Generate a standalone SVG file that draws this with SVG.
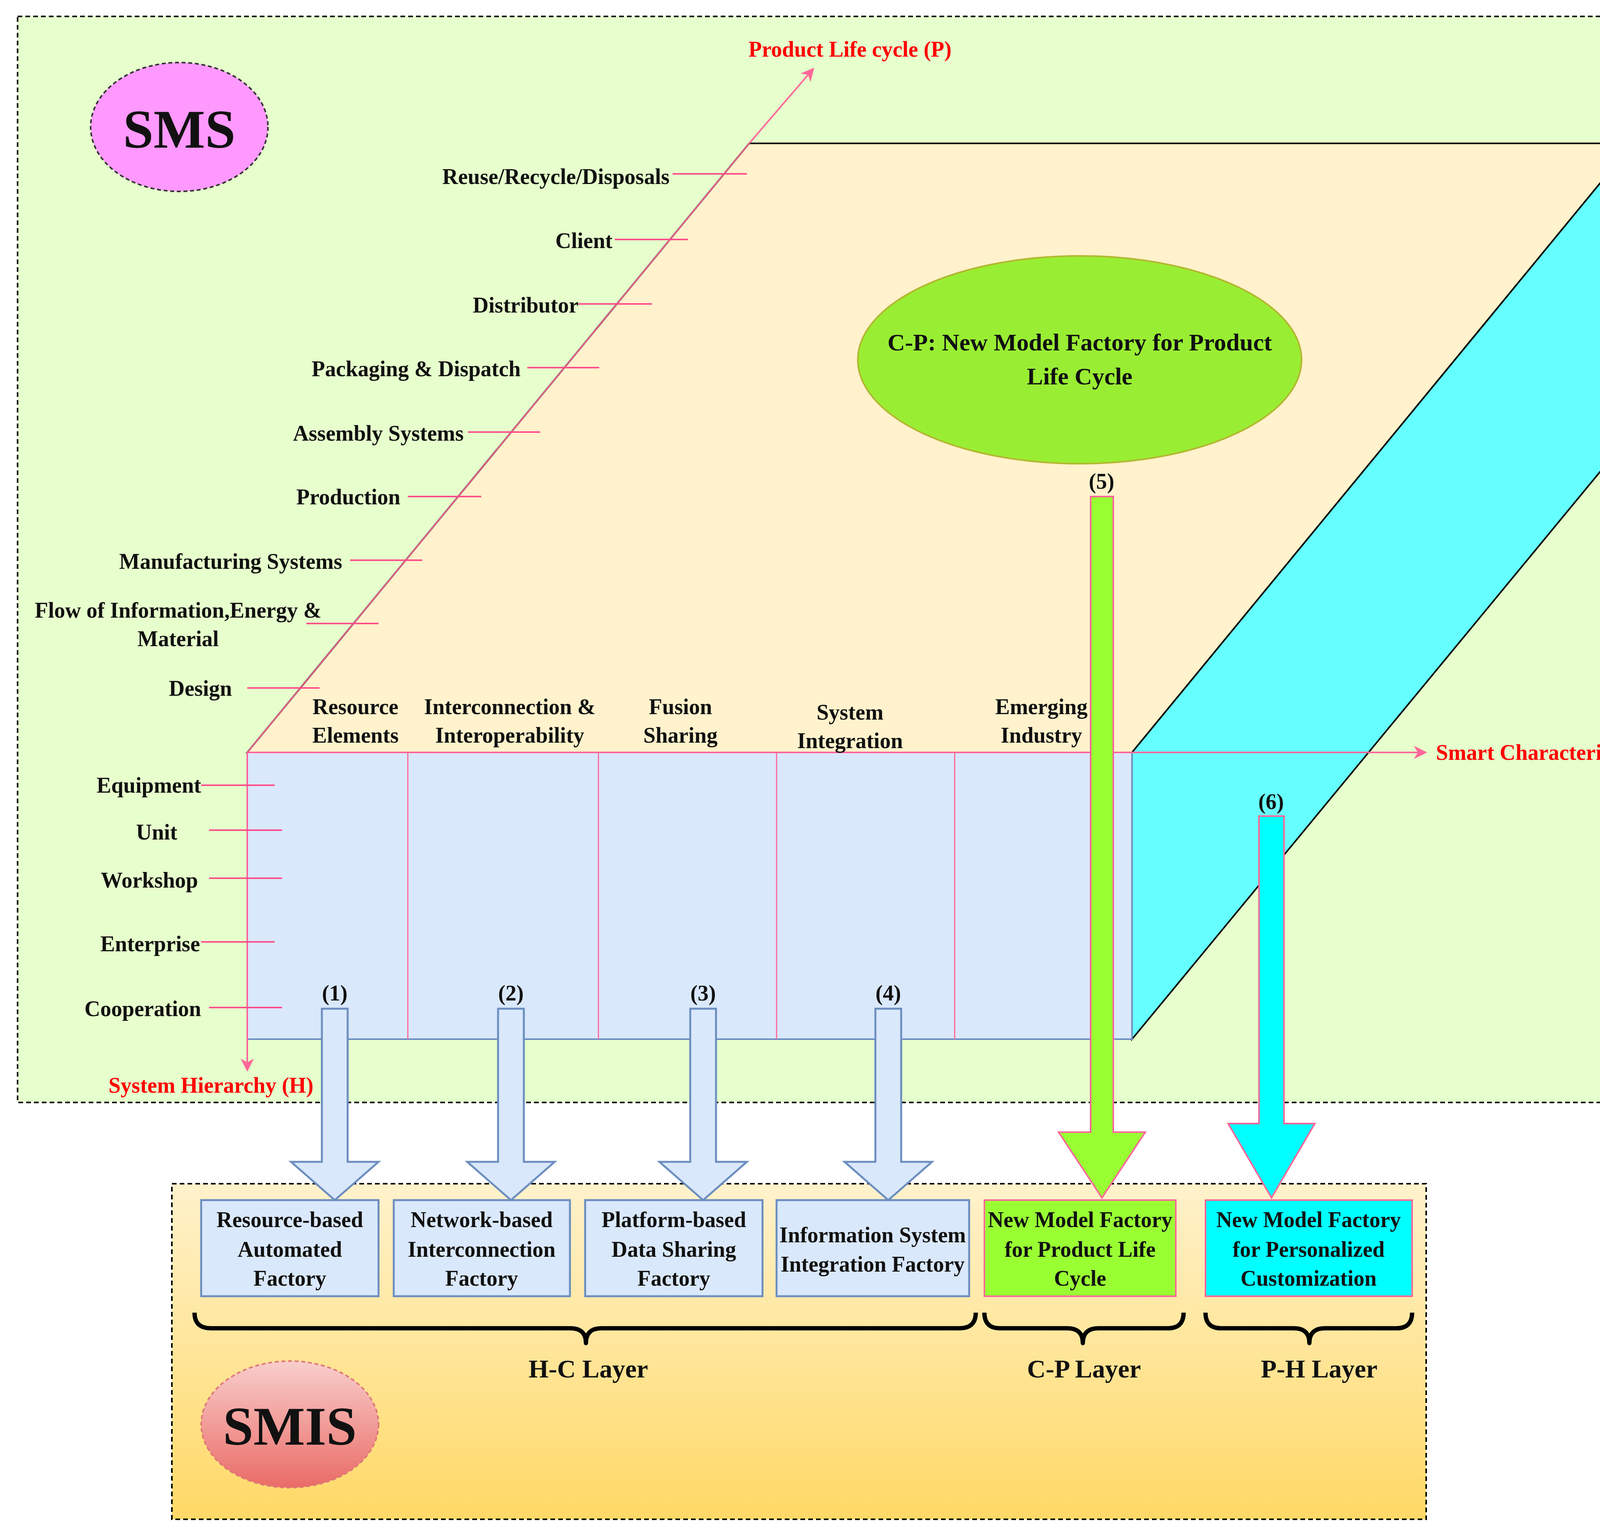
<svg xmlns="http://www.w3.org/2000/svg" width="4398" height="3942" viewBox="0 0 4398 3942">
<style>
text{font-family:"Liberation Serif",serif;font-weight:bold;fill:#111;dominant-baseline:central}
.t{font-size:56px}
.r{text-anchor:end}
.m{text-anchor:middle}
.red{fill:#ff0000;font-size:56px}
.tick{stroke:#ff4f8b;stroke-width:4}
.blue{fill:#dae8fc;stroke:#6c8ebf;stroke-width:5}
.brace{fill:none;stroke:#000;stroke-width:11;stroke-linejoin:round}
</style>
<defs>
<marker id="ah" viewBox="0 0 10 10" refX="9" refY="5" markerWidth="34" markerHeight="34" orient="auto" markerUnits="userSpaceOnUse">
<path d="M0,0L10,5L0,10L3,5z" fill="#ff6699"/>
</marker>
<linearGradient id="gy" x1="0" y1="0" x2="0" y2="1"><stop offset="0" stop-color="#fff2cc"/><stop offset="1" stop-color="#ffd966"/></linearGradient>
<linearGradient id="gr" x1="0" y1="0" x2="0" y2="1"><stop offset="0" stop-color="#f8cecc"/><stop offset="1" stop-color="#ea6b66"/></linearGradient>
</defs>
<g id="sms-region">
<rect x="45" y="42" width="4287" height="2780" fill="#e6ffcc" stroke="#000" stroke-width="4" stroke-dasharray="12,8"/>
</g>
<g id="smis-region">
<rect x="440" y="3030" width="3211" height="859" fill="url(#gy)" stroke="#000" stroke-width="4" stroke-dasharray="12,8"/>
</g>
<g id="sms"><ellipse cx="459" cy="325" rx="227" ry="165" fill="#ff99ff" stroke="#333" stroke-width="4" stroke-dasharray="10,7"/><text x="459" y="330" class="m" style="font-size:140px">SMS</text></g>
<g id="top-face"><polygon points="1918,367 4180,367 2898,1926 633,1926" fill="#fff2cc" stroke="#000" stroke-width="4"/></g>
<g id="side-face"><polygon points="4180,367 4180,1106 2898,2660 2898,1926" fill="#66ffff" stroke="#000" stroke-width="4"/></g>
<g id="front-face">
<rect x="633" y="1926" width="2265" height="734" fill="#dae8fc" stroke="#6c8ebf" stroke-width="4"/>
<g stroke="#ff6699" stroke-width="3"><line x1="1044" y1="1926" x2="1044" y2="2660"/><line x1="1532" y1="1926" x2="1532" y2="2660"/><line x1="1988" y1="1926" x2="1988" y2="2660"/><line x1="2444" y1="1926" x2="2444" y2="2660"/></g>
</g>
<g id="connectors">
<line x1="1918" y1="367" x2="2082" y2="176" stroke="#ff6699" stroke-width="4" marker-end="url(#ah)"/>
<line x1="633" y1="1926" x2="1918" y2="367" stroke="#ff6699" stroke-width="3"/>
<line x1="633" y1="1926" x2="3650" y2="1926" stroke="#ff6699" stroke-width="4" marker-end="url(#ah)"/>
<line x1="633" y1="1926" x2="633" y2="2740" stroke="#ff6699" stroke-width="4" marker-end="url(#ah)"/>
<g class="tick">
<line x1="1722" y1="445" x2="1912" y2="445"/><line x1="1574" y1="613" x2="1761" y2="613"/><line x1="1481" y1="778" x2="1669" y2="778"/><line x1="1350" y1="941" x2="1534" y2="941"/><line x1="1198" y1="1106" x2="1383" y2="1106"/><line x1="1044" y1="1271" x2="1232" y2="1271"/><line x1="896" y1="1434" x2="1081" y2="1434"/><line x1="784" y1="1596" x2="969" y2="1596"/><line x1="633" y1="1761" x2="818" y2="1761"/>
<line x1="515" y1="2010" x2="703" y2="2010"/><line x1="535" y1="2125" x2="722" y2="2125"/><line x1="535" y1="2248" x2="722" y2="2248"/><line x1="515" y1="2411" x2="703" y2="2411"/><line x1="535" y1="2579" x2="722" y2="2579"/>
</g>
<g class="blue">
<polygon points="824,2582 890,2582 890,2974 969,2974 857,3072 745,2974 824,2974"/>
<polygon points="1275,2582 1341,2582 1341,2974 1420,2974 1308,3072 1196,2974 1275,2974"/>
<polygon points="1767,2582 1833,2582 1833,2974 1912,2974 1800,3072 1688,2974 1767,2974"/>
<polygon points="2241,2582 2307,2582 2307,2974 2386,2974 2274,3072 2162,2974 2241,2974"/>
</g>
<polygon points="2792,1271 2850,1271 2850,2898 2932,2898 2821,3066 2710,2898 2792,2898" fill="#99ff33" stroke="#ff6699" stroke-width="4"/>
<polygon points="3223,2089 3287,2089 3287,2876 3366,2876 3255,3066 3144,2876 3223,2876" fill="#00ffff" stroke="#ff6699" stroke-width="4"/>
<path class="brace" d="M498,3360 Q498,3400 540,3400 L1460,3400 Q1500,3400 1500,3438 Q1500,3400 1540,3400 L2456,3400 Q2498,3400 2498,3360"/>
<path class="brace" d="M2520,3360 Q2520,3400 2560,3400 L2732,3400 Q2772,3400 2772,3438 Q2772,3400 2812,3400 L2990,3400 Q3030,3400 3030,3360"/>
<path class="brace" d="M3086,3360 Q3086,3400 3126,3400 L3312,3400 Q3352,3400 3352,3438 Q3352,3400 3392,3400 L3575,3400 Q3615,3400 3615,3360"/>
</g>
<g id="axis-labels">
<text x="2176" y="126" class="m red">Product Life cycle (P)</text>
<text x="3676" y="1926" class="red">Smart Characteristics (C)</text>
<text x="540" y="2778" class="m red">System Hierarchy (H)</text>
<g class="t">
<text x="1714" y="452" class="r">Reuse/Recycle/Disposals</text>
<text x="1568" y="616" class="r">Client</text>
<text x="1481" y="781" class="r">Distributor</text>
<text x="1333" y="944" class="r">Packaging &amp; Dispatch</text>
<text x="1187" y="1109" class="r">Assembly Systems</text>
<text x="1025" y="1272" class="r">Production</text>
<text x="876" y="1437" class="r">Manufacturing Systems</text>
<text x="456" y="1562" class="m">Flow of Information,Energy &amp;</text>
<text x="456" y="1635" class="m">Material</text>
<text x="594" y="1762" class="r">Design</text>
<text x="515" y="2010" class="r">Equipment</text>
<text x="454" y="2130" class="r">Unit</text>
<text x="507" y="2253" class="r">Workshop</text>
<text x="512" y="2416" class="r">Enterprise</text>
<text x="515" y="2582" class="r">Cooperation</text>
<text x="910" y="1809" class="m">Resource</text><text x="910" y="1882" class="m">Elements</text>
<text x="1305" y="1809" class="m">Interconnection &amp;</text><text x="1305" y="1882" class="m">Interoperability</text>
<text x="1742" y="1809" class="m">Fusion</text><text x="1742" y="1882" class="m">Sharing</text>
<text x="2176" y="1823" class="m">System</text><text x="2176" y="1896" class="m">Integration</text>
<text x="2666" y="1809" class="m">Emerging</text><text x="2666" y="1882" class="m">Industry</text>
<text x="857" y="2542" class="m">(1)</text><text x="1308" y="2542" class="m">(2)</text><text x="1800" y="2542" class="m">(3)</text><text x="2274" y="2542" class="m">(4)</text>
<text x="2820" y="1232" class="m">(5)</text><text x="3254" y="2052" class="m">(6)</text>
</g>
</g>
<g id="cp-ellipse"><ellipse cx="2764" cy="921" rx="568" ry="266" fill="#99ee33" stroke="#b5b530" stroke-width="4"/>
<text x="2764" y="876" class="m" style="font-size:62px">C-P: New Model Factory for Product</text><text x="2764" y="963" class="m" style="font-size:62px">Life Cycle</text></g>
<g id="smis"><ellipse cx="742" cy="3646" rx="227" ry="162" fill="url(#gr)" stroke="#d77" stroke-width="4" stroke-dasharray="10,7"/><text x="742" y="3650" class="m" style="font-size:140px">SMIS</text></g>
<g id="box1"><rect x="515" y="3072" width="454" height="246" class="blue"/><g class="t"><text x="742" y="3122" class="m">Resource-based</text><text x="742" y="3198" class="m">Automated</text><text x="742" y="3272" class="m">Factory</text></g></g>
<g id="box2"><rect x="1008" y="3072" width="451" height="246" class="blue"/><g class="t"><text x="1233" y="3122" class="m">Network-based</text><text x="1233" y="3198" class="m">Interconnection</text><text x="1233" y="3272" class="m">Factory</text></g></g>
<g id="box3"><rect x="1498" y="3072" width="454" height="246" class="blue"/><g class="t"><text x="1725" y="3122" class="m">Platform-based</text><text x="1725" y="3198" class="m">Data Sharing</text><text x="1725" y="3272" class="m">Factory</text></g></g>
<g id="box4"><rect x="1988" y="3072" width="493" height="246" class="blue"/><g class="t"><text x="2234" y="3161" class="m">Information System</text><text x="2234" y="3236" class="m">Integration Factory</text></g></g>
<g id="box5"><rect x="2520" y="3072" width="490" height="246" fill="#99ff33" stroke="#ff6699" stroke-width="4"/><g class="t"><text x="2765" y="3122" class="m">New Model Factory</text><text x="2765" y="3198" class="m">for Product Life</text><text x="2765" y="3272" class="m">Cycle</text></g></g>
<g id="box6"><rect x="3086" y="3072" width="529" height="246" fill="#00ffff" stroke="#ff6699" stroke-width="4"/><g class="t"><text x="3350" y="3122" class="m">New Model Factory</text><text x="3350" y="3198" class="m">for Personalized</text><text x="3350" y="3272" class="m">Customization</text></g></g>
<g id="layer-labels">
<text x="1506" y="3503" class="m" style="font-size:66px">H-C Layer</text>
<text x="2775" y="3503" class="m" style="font-size:66px">C-P Layer</text>
<text x="3377" y="3503" class="m" style="font-size:66px">P-H Layer</text>
</g>
</svg>
